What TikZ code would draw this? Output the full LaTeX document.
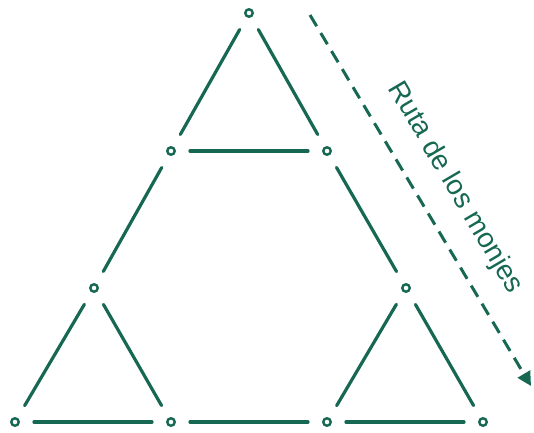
\documentclass[tikz,border=0pt]{standalone}
\usepackage{fontspec}
\setmainfont{Liberation Sans}
\usetikzlibrary{arrows.meta}
\definecolor{mgreen}{RGB}{22,104,82}
\begin{document}
\begin{tikzpicture}[x=1pt,y=1pt,
  pt/.style={circle,draw=mgreen,line width=2.4pt,minimum size=7.5pt,inner sep=0pt},
  stick/.style={draw=mgreen,line width=3.2pt,line cap=round,shorten >=14pt,shorten <=14pt},
  route/.style={draw=mgreen,line width=3pt,dash pattern=on 13pt off 8pt,-{Triangle[length=14pt,width=14pt]}}]
\useasboundingbox (0,0) rectangle (534,432);
\node[pt] (T)  at (249,419) {};
\node[pt] (L1) at (171,281) {};
\node[pt] (R1) at (327,281) {};
\node[pt] (L2) at (94,144) {};
\node[pt] (R2) at (406,144) {};
\node[pt] (BL) at (15,10) {};
\node[pt] (B1) at (171,10) {};
\node[pt] (B2) at (327,10) {};
\node[pt] (BR) at (483,10) {};
\draw[stick] (T) -- (L1);
\draw[stick] (T) -- (R1);
\draw[stick] (L1) -- (R1);
\draw[stick] (L1) -- (L2);
\draw[stick] (R1) -- (R2);
\draw[stick] (L2) -- (BL);
\draw[stick] (L2) -- (B1);
\draw[stick] (R2) -- (B2);
\draw[stick] (R2) -- (BR);
\draw[stick] (BL) -- (B1);
\draw[stick] (B1) -- (B2);
\draw[stick] (B2) -- (BR);
\coordinate (rs) at (310,417);
\coordinate (re) at (531,46);
\draw[route] (rs) -- (re);
\node[text=mgreen,font=\fontsize{28}{30}\selectfont,rotate=-59.5] (lbl) at (455,244) {Ruta de los monjes};
\end{tikzpicture}
\end{document}
